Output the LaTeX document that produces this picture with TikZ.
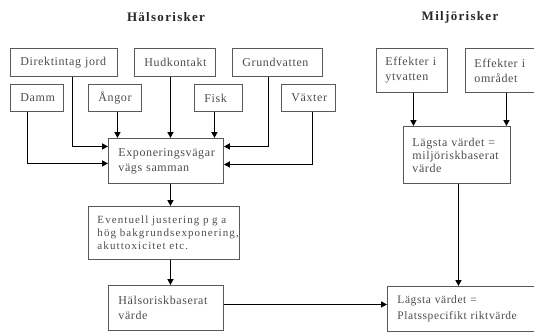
\documentclass[tikz,border=0pt]{standalone}
\usepackage{fontspec}
\setmainfont{Liberation Serif}
\newfontfamily\boxfont{Liberation Serif}[LetterSpace=5]
\newfontfamily\widefont{Liberation Serif}[LetterSpace=10]
\newfontfamily\titlefont{Liberation Serif}[LetterSpace=10]
\usepackage{tikz}
\usetikzlibrary{
    arrows.meta,
    positioning
}
\definecolor{boxgray}{rgb}{0.35, 0.35, 0.35}
\definecolor{textgray}{rgb}{0.3, 0.3, 0.3}
\tikzstyle{riskbox} = [
    rectangle,
    draw=boxgray,
    line width=0.9pt,
    anchor=north west,
    align=left,
    inner xsep=10pt,
    inner ysep=2pt,
    text=textgray,
    font=\boxfont\fontsize{12}{15}\selectfont
]
\tikzstyle{heading} = [
    font=\titlefont\fontsize{13}{15}\selectfont\bfseries,
    text=black!85
]
\tikzstyle{arrow} = [
    -{Triangle[length=6pt, width=6pt]},
    line width=1.4pt,
    draw=black
]

\begin{document}
\begin{tikzpicture}[x=1pt, y=-1pt]
    \useasboundingbox (0,0) rectangle (534,332);

    % Headings
    \node[heading] (htitle) at (166,17) {Hälsorisker};
    \node[heading] (mtitle) at (460,17) {Miljörisker};

    % Exposure routes
    \node[riskbox, text width=87pt, minimum height=28pt] (dirj) at (10,48) {Direktintag~jord};
    \node[riskbox, text width=61pt, minimum height=28pt] (hud) at (134,48) {Hudkontakt};
    \node[riskbox, text width=70pt, minimum height=28pt] (grund) at (232,48) {Grundvatten};
    \node[riskbox, text width=33pt, minimum height=27pt] (damm) at (10,84) {Damm};
    \node[riskbox, text width=33pt, minimum height=27pt] (angor) at (88,84) {Ångor};
    \node[riskbox, text width=28pt, minimum height=27pt] (fisk) at (194,84) {Fisk};
    \node[riskbox, text width=34pt, minimum height=27pt] (vaxt) at (281,84) {Växter};

    % Health chain
    \node[riskbox, text width=95pt, minimum height=45pt] (expo) at (108,138)
        {Exponeringsvägar\\vägs~samman};
    \node[riskbox, font=\widefont\fontsize{11}{13}\selectfont, inner xsep=9pt,
        text width=133pt, minimum height=53pt] (just) at (88,206)
        {\mbox{Eventuell justering p g a}\\\mbox{hög bakgrundsexponering,}\\\mbox{akuttoxicitet etc.}};
    \node[riskbox, text width=95pt, minimum height=45pt] (halso) at (108,285)
        {Hälsoriskbaserat\\värde};

    % Environment chain
    \node[riskbox, inner xsep=9pt, text width=53pt, minimum height=44pt] (ytv) at (376,48)
        {Effekter~i\\ytvatten};
    \node[riskbox, inner xsep=9pt, text width=72pt, minimum height=44pt] (omr) at (465,48)
        {Effekter~i\\området};
    \node[riskbox, inner xsep=9pt, text width=89pt, minimum height=57pt,
        font=\boxfont\fontsize{12}{13}\selectfont] (miljo) at (403,126)
        {Lägsta~värdet~=\\miljöriskbaserat\\värde};
    \node[riskbox, text width=150pt, minimum height=45pt,
        font=\boxfont\fontsize{11.5}{16}\selectfont] (plats) at (387,286)
        {Lägsta~värdet~=\\Platsspecifikt~riktvärde};

    % Arrows into the merge box
    \draw[arrow] ([xshift=8.5pt]dirj.south) |- ([yshift=14.5pt]expo.west);
    \draw[arrow] ([xshift=-9.5pt]damm.south) |- ([yshift=-2.5pt]expo.west);
    \draw[arrow] ([xshift=2.5pt]angor.south) -- ([xshift=2.5pt]angor.south |- expo.north);
    \draw[arrow] ([xshift=-4.5pt]hud.south) -- ([xshift=-4.5pt]hud.south |- expo.north);
    \draw[arrow] ([xshift=-4pt]fisk.south) -- ([xshift=-4pt]fisk.south |- expo.north);
    \draw[arrow] ([xshift=-9pt]grund.south) |- ([yshift=14.5pt]expo.east);
    \draw[arrow] ([xshift=4pt]vaxt.south) |- ([yshift=-3.5pt]expo.east);

    % Down the health chain
    \draw[arrow] ([xshift=4.5pt]expo.south) -- ([xshift=4.5pt]expo.south |- just.north);
    \draw[arrow] ([xshift=6.5pt]just.south) -- ([xshift=6.5pt]just.south |- halso.north);
    \draw[arrow] ([yshift=3.5pt]halso.east) -- ([yshift=3.5pt]halso.east -| plats.west);

    % Down the environment chain
    \draw[arrow] ([xshift=1.5pt]ytv.south) -- ([xshift=1.5pt]ytv.south |- miljo.north);
    \draw[arrow] ([xshift=-4pt]omr.south) -- ([xshift=-4pt]omr.south |- miljo.north);
    \draw[arrow] ([xshift=1.5pt]miljo.south) -- ([xshift=1.5pt]miljo.south |- plats.north);
\end{tikzpicture}
\end{document}
